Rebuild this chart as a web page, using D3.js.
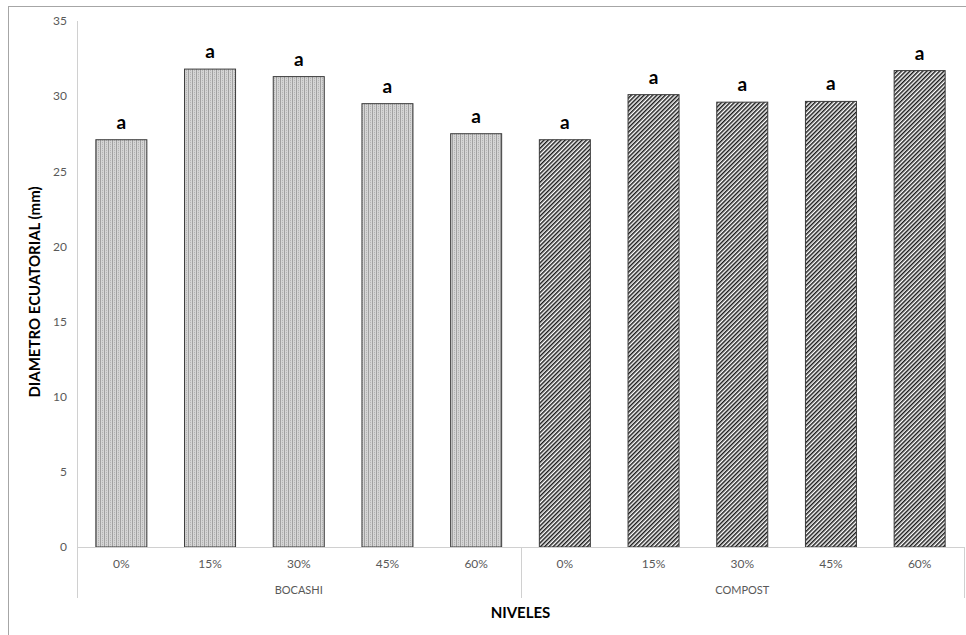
<!DOCTYPE html>
<html><head><meta charset="utf-8">
<script src="https://cdn.jsdelivr.net/npm/d3@7"></script>
<style>html,body{margin:0;padding:0;background:#fff;}svg{display:block;}</style>
</head><body>
<script>
const groups = ["BOCASHI", "COMPOST"];
const levels = ["0%", "15%", "30%", "45%", "60%"];
const bocashiValues = [27.1, 31.8, 31.3, 29.5, 27.5];
const compostValues = [27.1, 30.1, 29.6, 29.65, 31.7];
const bocashiLetters = ["a", "a", "a", "a", "a"];
const compostLetters = ["a", "a", "a", "a", "a"];
const yTicks = [0, 5, 10, 15, 20, 25, 30, 35];

(function () {
const W = 966, H = 635;
const font = "Lato, 'Open Sans', 'DejaVu Sans', sans-serif";
const svg = d3.select("body").append("svg").attr("width", W).attr("height", H);

const defs = svg.append("defs");
const pv = defs.append("pattern").attr("id", "vert").attr("patternUnits", "userSpaceOnUse")
  .attr("width", 4).attr("height", 2);
pv.append("rect").attr("width", 4).attr("height", 2).attr("fill", "#d6d6d6");
pv.append("rect").attr("x", 0).attr("width", 1).attr("height", 2).attr("fill", "#a0a0a0");
pv.append("rect").attr("x", 2).attr("width", 1).attr("height", 2).attr("fill", "#b4b4b4");
pv.append("rect").attr("x", 2).attr("y", 1).attr("width", 1).attr("height", 1).attr("fill", "#cfcfcf");
const pd = defs.append("pattern").attr("id", "diag").attr("patternUnits", "userSpaceOnUse")
  .attr("width", 3).attr("height", 3).attr("patternTransform", "rotate(45)");
pd.append("rect").attr("width", 3).attr("height", 3).attr("fill", "#ffffff");
pd.append("rect").attr("width", 1.5).attr("height", 3).attr("fill", "#1a1a1a");

// outer chart border
svg.append("rect").attr("x", 8.5).attr("y", 6.5).attr("width", 980).attr("height", 660)
  .attr("fill", "none").attr("stroke", "#a6a6a6").attr("stroke-width", 1);

const data = [];
groups.forEach((g, gi) => {
  const vals = gi === 0 ? bocashiValues : compostValues;
  const lets = gi === 0 ? bocashiLetters : compostLetters;
  levels.forEach((l, li) => data.push({group: g, level: l, key: g + "|" + l, value: vals[li], letter: lets[li], gi}));
});

const pLeft = 77, pRight = 964, pTop = 21, pBase = 547, axisBottom = 598;
const x = d3.scaleBand().domain(data.map(d => d.key)).range([pLeft, pRight])
  .paddingInner(0.425).paddingOuter(0.2125);
const y = d3.scaleLinear().domain([0, 35]).range([pBase, pTop]);

// y axis
const yAxis = svg.append("g").attr("transform", `translate(${pLeft},0)`)
  .call(d3.axisLeft(y).tickValues(yTicks).tickSize(0).tickPadding(10));
yAxis.select(".domain").remove();
yAxis.selectAll("text").attr("font-family", font).attr("font-size", 12).attr("fill", "#595959");
svg.append("line").attr("x1", pLeft + 0.5).attr("x2", pLeft + 0.5).attr("y1", pTop).attr("y2", axisBottom)
  .attr("stroke", "#d0d0d0");

// bars
svg.append("g").selectAll("rect").data(data).join("rect")
  .attr("x", d => x(d.key)).attr("width", x.bandwidth())
  .attr("y", d => y(d.value)).attr("height", d => y(0) - y(d.value))
  .attr("fill", d => d.gi === 0 ? "url(#vert)" : "url(#diag)")
  .attr("stroke", "#3a3a3a").attr("stroke-width", 1);

// letters
svg.append("g").selectAll("text").data(data).join("text")
  .attr("x", d => x(d.key) + x.bandwidth() / 2).attr("y", d => y(d.value) - 11)
  .attr("text-anchor", "middle").attr("font-family", font).attr("font-weight", "bold")
  .attr("font-size", 19).attr("fill", "#000").text(d => d.letter);

// x baseline and category axis
svg.append("line").attr("x1", pLeft).attr("x2", pRight).attr("y1", pBase + 0.5).attr("y2", pBase + 0.5)
  .attr("stroke", "#d0d0d0");
const xAxis = svg.append("g").attr("transform", `translate(0,${pBase})`)
  .call(d3.axisBottom(x).tickSize(0).tickPadding(12).tickFormat(k => k.split("|")[1]));
xAxis.select(".domain").remove();
xAxis.selectAll("text").attr("font-family", font).attr("font-size", 12).attr("fill", "#595959");

// group dividers
const groupEdges = [pRight];
groups.forEach((g, gi) => {
  if (gi > 0) groupEdges.push(x(g + "|" + levels[0]) - x.step() * x.paddingInner() / 2);
});
svg.selectAll("line.gdiv").data(groupEdges).join("line").attr("class", "gdiv")
  .attr("x1", d => Math.round(d) + 0.5).attr("x2", d => Math.round(d) + 0.5)
  .attr("y1", pBase).attr("y2", axisBottom).attr("stroke", "#d0d0d0");

// group labels
svg.selectAll("text.glab").data(groups).join("text").attr("class", "glab")
  .attr("x", g => (x(g + "|" + levels[0]) + x(g + "|" + levels[levels.length - 1]) + x.bandwidth()) / 2)
  .attr("y", 594).attr("text-anchor", "middle")
  .attr("font-family", font).attr("font-size", 11).attr("fill", "#595959").text(g => g);

// axis titles
svg.append("text").attr("x", (pLeft + pRight) / 2).attr("y", 618).attr("text-anchor", "middle")
  .attr("font-family", font).attr("font-weight", "bold").attr("font-size", 15).attr("fill", "#000")
  .text("NIVELES");
svg.append("text").attr("transform", `translate(40,${(pTop + pBase) / 2 + 8}) rotate(-90)`)
  .attr("text-anchor", "middle").attr("font-family", font).attr("font-weight", "bold")
  .attr("font-size", 15).attr("fill", "#000").text("DIAMETRO ECUATORIAL (mm)");
})();
</script>
</body></html>
